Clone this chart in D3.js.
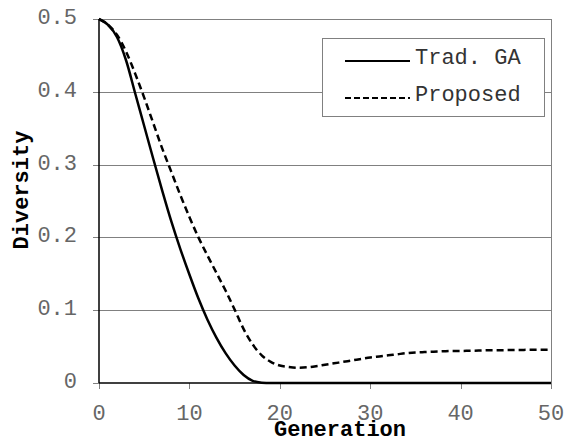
<!DOCTYPE html>
<html>
<head>
<meta charset="utf-8">
<script src="https://cdn.jsdelivr.net/npm/d3@7"></script>
<style>
  html, body { margin: 0; padding: 0; background: #fff; }
  svg { display: block; }
</style>
</head>
<body>
<svg id="chart" width="564" height="443"></svg>
<script>
const generations = d3.range(0, 51);
const tradGA = [
  0.5, 0.492, 0.475, 0.443, 0.398, 0.353, 0.308, 0.264, 0.222, 0.184,
  0.149, 0.116, 0.087, 0.062, 0.041, 0.024, 0.011, 0.003, 0.0005, 0,
  0, 0, 0, 0, 0, 0, 0, 0, 0, 0,
  0, 0, 0, 0, 0, 0, 0, 0, 0, 0,
  0, 0, 0, 0, 0, 0, 0, 0, 0, 0, 0
];
const proposed = [
  0.5, 0.492, 0.478, 0.455, 0.425, 0.392, 0.357, 0.322, 0.290, 0.258,
  0.228, 0.200, 0.175, 0.151, 0.127, 0.101, 0.074, 0.053, 0.038, 0.029,
  0.024, 0.022, 0.021, 0.0215, 0.023, 0.025, 0.027, 0.029, 0.031, 0.033,
  0.035, 0.0365, 0.038, 0.0395, 0.041, 0.042, 0.0425, 0.043, 0.0435, 0.044,
  0.044, 0.0443, 0.0446, 0.0449, 0.045, 0.0452, 0.0454, 0.0455, 0.0456, 0.0457, 0.0458
];
const seriesNames = ["Trad. GA", "Proposed"];
const xTicks = [0, 10, 20, 30, 40, 50];
const yTicks = [0, 0.1, 0.2, 0.3, 0.4, 0.5];
const yTickLabels = ["0", "0.1", "0.2", "0.3", "0.4", "0.5"];

const svg = d3.select("#chart");
const pL = 99, pR = 551, pT = 19, pB = 383;
const font = "'Liberation Mono', 'Courier New', monospace";

const x = d3.scaleLinear().domain([0, 50]).range([pL, pR]);
const y = d3.scaleLinear().domain([0, 0.5]).range([pB, pT]);

// gridlines
svg.append("g").selectAll("line").data(yTicks.filter(d => d > 0)).join("line")
  .attr("x1", pL).attr("x2", pR)
  .attr("y1", d => Math.round(y(d)) + 0.5).attr("y2", d => Math.round(y(d)) + 0.5)
  .attr("stroke", "#808080").attr("stroke-width", 1);

// right border
svg.append("line").attr("x1", pR + 0.5).attr("x2", pR + 0.5)
  .attr("y1", pT).attr("y2", pB + 6)
  .attr("stroke", "#808080").attr("stroke-width", 1);

// y ticks
svg.append("g").selectAll("line").data(yTicks).join("line")
  .attr("x1", pL - 6).attr("x2", pL)
  .attr("y1", d => Math.round(y(d)) + 0.5).attr("y2", d => Math.round(y(d)) + 0.5)
  .attr("stroke", "#808080");
// x ticks
svg.append("g").selectAll("line").data(xTicks).join("line")
  .attr("x1", d => Math.round(x(d)) + 0.5).attr("x2", d => Math.round(x(d)) + 0.5)
  .attr("y1", pB).attr("y2", pB + 6)
  .attr("stroke", "#808080");

// lines
const line = d3.line().x((d, i) => x(generations[i])).y(d => y(d)).curve(d3.curveMonotoneX);
svg.append("path").datum(proposed).attr("d", line)
  .attr("fill", "none").attr("stroke", "#000").attr("stroke-width", 2.5)
  .attr("stroke-dasharray", "7,4");
svg.append("path").datum(tradGA).attr("d", line)
  .attr("fill", "none").attr("stroke", "#000").attr("stroke-width", 2.5);

// axes lines
svg.append("line").attr("x1", pL).attr("x2", pL).attr("y1", pT).attr("y2", pB)
  .attr("stroke", "#000").attr("stroke-width", 1.5);
svg.append("line").attr("x1", pL).attr("x2", pR).attr("y1", pB).attr("y2", pB)
  .attr("stroke", "#000").attr("stroke-width", 1.5);

// tick labels
svg.append("g").selectAll("text").data(yTicks).join("text")
  .attr("x", 77).attr("y", d => y(d) + 5)
  .attr("text-anchor", "end")
  .attr("font-family", font).attr("font-size", 22).attr("fill", "#666")
  .text((d, i) => yTickLabels[i]);
svg.append("g").selectAll("text").data(xTicks).join("text")
  .attr("x", d => x(d)).attr("y", 420)
  .attr("text-anchor", "middle")
  .attr("font-family", font).attr("font-size", 22).attr("fill", "#666")
  .text(d => d);

// axis titles
svg.append("text").attr("x", 340).attr("y", 436).attr("text-anchor", "middle")
  .attr("font-family", font).attr("font-size", 22).attr("font-weight", "bold")
  .attr("fill", "#000").text("Generation");
svg.append("text").attr("transform", "translate(28,190) rotate(-90)")
  .attr("text-anchor", "middle")
  .attr("font-family", font).attr("font-size", 22).attr("font-weight", "bold")
  .attr("fill", "#000").text("Diversity");

// legend
const lg = svg.append("g");
lg.append("rect").attr("x", 322.5).attr("y", 38.5).attr("width", 222).attr("height", 78)
  .attr("fill", "#fff").attr("stroke", "#808080").attr("stroke-width", 1);
const legendRows = [
  { name: seriesNames[0], dash: null, ly: 61 },
  { name: seriesNames[1], dash: "6,3", ly: 98 }
];
legendRows.forEach(r => {
  lg.append("line").attr("x1", 345).attr("x2", 410).attr("y1", r.ly).attr("y2", r.ly)
    .attr("stroke", "#000").attr("stroke-width", 2)
    .attr("stroke-dasharray", r.dash);
  lg.append("text").attr("x", 415).attr("y", r.ly + 3)
    .attr("font-family", font).attr("font-size", 22).attr("fill", "#333")
    .text(r.name);
});
</script>
</body>
</html>
